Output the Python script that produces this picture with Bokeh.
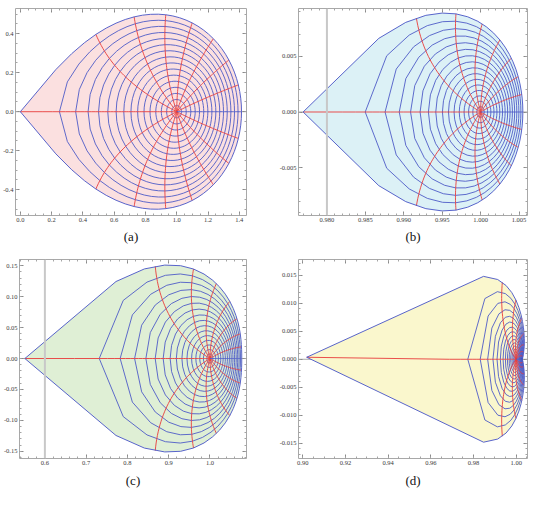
import numpy as np
from bokeh.plotting import figure
from bokeh.layouts import row, column
from bokeh.models import FixedTicker, LinearAxis, PrintfTickFormatter, Span, Title, Range1d
from bokeh.embed import file_html
from bokeh.resources import INLINE

# ---------------- mesh levels (15 circle images, 15 ray images) ----------------
RADII = [0.0625, 0.125, 0.1875, 0.25, 0.3125, 0.375, 0.4375, 0.5,
         0.5625, 0.625, 0.6875, 0.75, 0.8125, 0.875, 0.9375]
RAY_ANGLES_DEG = [22.5, 45, 67.5, 90, 112.5, 135, 157.5, 180,
                  202.5, 225, 247.5, 270, 292.5, 315, 337.5]

# each panel: image of the unit disk under  w = 1 + s((1+z)^alpha - 1) + a z
# (alpha, s, a, vertical stretch) estimated from the plotted extents
# ---------------- panel (a) ----------------
A_MAP = (0.5, 1.0, 0.0, 1.0)
A_X_TICKS = [0.0, 0.2, 0.4, 0.6, 0.8, 1.0, 1.2, 1.4]
A_Y_TICKS = [-0.4, -0.2, 0.0, 0.2, 0.4]
A_X_RANGE = (-0.031, 1.446)
A_Y_RANGE = (-0.532, 0.529)

# ---------------- panel (b) ----------------
B_MAP = (0.42, 0.02659, -0.00349, 1.0)
B_X_TICKS = [0.980, 0.985, 0.990, 0.995, 1.000, 1.005]
B_Y_TICKS = [-0.005, 0.0, 0.005]
B_X_RANGE = (0.9763, 1.0061)
B_Y_RANGE = (-0.0093, 0.0093)
B_VAXIS = 0.980

# ---------------- panel (c) ----------------
C_MAP = (0.38, 0.5317, -0.0832, 0.97)
C_X_TICKS = [0.6, 0.7, 0.8, 0.9, 1.0]
C_Y_TICKS = [-0.15, -0.10, -0.05, 0.0, 0.05, 0.10, 0.15]
C_X_RANGE = (0.5385, 1.0885)
C_Y_RANGE = (-0.1616, 0.160)
C_VAXIS = 0.6

# ---------------- panel (d) ----------------
D_MAP = (0.11, 0.10535, -0.00535, 1.12)
D_X_TICKS = [0.90, 0.92, 0.94, 0.96, 0.98, 1.00]
D_Y_TICKS = [-0.015, -0.010, -0.005, 0.0, 0.005, 0.010, 0.015]
D_X_RANGE = (0.898, 1.0053)
D_Y_RANGE = (-0.0177, 0.0178)

BLUE = "#4f5cc8"
RED = "#e8403f"
FILLS = {"a": "#fbe0e0", "b": "#dcf1f6", "c": "#dfefd5", "d": "#faf7cd"}


def make_map(params):
    alpha, s, a, ky = params

    def f(z):
        w = 1 + s * ((1 + z) ** alpha - 1) + a * z
        return w.real, ky * w.imag
    return f


def build_mesh(fmap, nt, nr):
    t = np.linspace(0, 2 * np.pi, nt + 1)
    bx, by = [], []
    for r in RADII:
        x, y = fmap(r * np.exp(1j * t) + 0j)
        bx.append(list(x)); by.append(list(y))
    rr = np.linspace(0, 1, nr + 1)
    rx, ry = [], []
    for ang in RAY_ANGLES_DEG:
        x, y = fmap(rr * np.exp(1j * np.deg2rad(ang)) + 0j)
        rx.append(list(x)); ry.append(list(y))
    sx, sy = fmap(rr + 0j)
    ox, oy = fmap(np.exp(1j * t) + 0j)
    return bx, by, rx, ry, list(sx), list(sy), list(ox), list(oy)


def make_fig(xr, yr, fw, fh, bl, br, bt, bb):
    p = figure(width=fw + bl + br, height=fh + bt + bb,
               x_range=Range1d(*xr), y_range=Range1d(*yr),
               output_backend="svg", toolbar_location=None,
               x_axis_location=None, y_axis_location=None,
               min_border_left=bl, min_border_right=br,
               min_border_top=bt, min_border_bottom=bb)
    p.grid.visible = False
    p.outline_line_color = None
    p.background_fill_color = "white"
    p.border_fill_color = "white"
    return p


def add_axes(p, xt, yt, xminor, yminor, xfmt, yfmt):
    specs = [("below", xt, xminor, xfmt, True), ("above", xt, xminor, xfmt, False),
             ("left", yt, yminor, yfmt, True), ("right", yt, yminor, yfmt, False)]
    for loc, ticks, minor, fmt, show in specs:
        ax = LinearAxis(ticker=FixedTicker(ticks=ticks, minor_ticks=minor),
                        formatter=PrintfTickFormatter(format=fmt))
        ax.axis_line_color = "#a8a8a8"
        ax.major_tick_line_color = "#8a8a8a"
        ax.minor_tick_line_color = "#a5a5a5"
        ax.major_tick_in = 4
        ax.major_tick_out = 0
        ax.minor_tick_in = 2
        ax.minor_tick_out = 0
        ax.major_label_text_font = "Liberation Serif"
        ax.major_label_text_color = "#3a3a3a"
        if show:
            ax.major_label_text_font_size = "6.5px"
            ax.major_label_standoff = 2
        else:
            ax.major_label_text_font_size = "0px"
            ax.major_label_standoff = 0
        p.add_layout(ax, loc)


def add_caption(p, text, standoff):
    p.add_layout(Title(text=text, align="center", text_font="Liberation Serif",
                       text_font_size="13px", text_font_style="normal",
                       text_color="#111111", standoff=standoff), "below")


def draw_panel(p, fill, mesh):
    bx, by, rx, ry, sx, sy, ox, oy = mesh
    p.add_layout(Span(location=0, dimension="width", line_color="#aaaaaa",
                      line_width=1, level="underlay"))
    p.patch(ox, oy, fill_color=fill, line_color=None)
    p.multi_line(bx, by, line_color=BLUE, line_width=1, line_alpha=0.9)
    p.multi_line(rx, ry, line_color=RED, line_width=1, line_alpha=0.92)
    p.line(ox, oy, line_color=BLUE, line_width=1, line_alpha=0.95)
    p.line(sx, sy, line_color=BLUE, line_width=1, line_alpha=0.95)


def ticks_range(lo, hi, step):
    n0 = int(np.floor(lo / step)) - 1
    n1 = int(np.ceil(hi / step)) + 1
    return [round(k * step, 6) for k in range(n0, n1 + 1)]


NT, NR = 40, 48

# ---------------- panel (a) ----------------
pa = make_fig(A_X_RANGE, A_Y_RANGE, 233, 207, 13, 27, 8, 36)
draw_panel(pa, FILLS["a"], build_mesh(make_map(A_MAP), 64, NR))
add_axes(pa, A_X_TICKS, A_Y_TICKS, ticks_range(*A_X_RANGE, 0.05), ticks_range(*A_Y_RANGE, 0.05), "%.1f", "%.1f")
add_caption(pa, "(a)", 4)

# ---------------- panel (b) ----------------
pb = make_fig(B_X_RANGE, B_Y_RANGE, 229, 207, 25, 4, 8, 36)
draw_panel(pb, FILLS["b"], build_mesh(make_map(B_MAP), NT, NR))
pb.add_layout(Span(location=B_VAXIS, dimension="height", line_color="#c8c8c8", line_width=2))
add_axes(pb, B_X_TICKS, B_Y_TICKS, ticks_range(*B_X_RANGE, 0.001), ticks_range(*B_Y_RANGE, 0.001), "%.3f", "%.3f")
add_caption(pb, "(b)", 4)

# ---------------- panel (c) ----------------
pc = make_fig(C_X_RANGE, C_Y_RANGE, 231, 205, 15, 27, 8, 33)
draw_panel(pc, FILLS["c"], build_mesh(make_map(C_MAP), NT, NR))
pc.add_layout(Span(location=C_VAXIS, dimension="height", line_color="#c8c8c8", line_width=2))
add_axes(pc, C_X_TICKS, C_Y_TICKS, ticks_range(*C_X_RANGE, 0.02), ticks_range(*C_Y_RANGE, 0.01), "%.1f", "%.2f")
add_caption(pc, "(c)", 6)

# ---------------- panel (d) ----------------
pd_ = make_fig(D_X_RANGE, D_Y_RANGE, 229, 199, 25, 4, 8, 39)
draw_panel(pd_, FILLS["d"], build_mesh(make_map(D_MAP), NT, NR))
add_axes(pd_, D_X_TICKS, D_Y_TICKS, ticks_range(*D_X_RANGE, 0.005), ticks_range(*D_Y_RANGE, 0.001), "%.2f", "%.3f")
add_caption(pd_, "(d)", 6)

layout = column(row(pa, pb), row(pc, pd_))
open("out.html", "w").write(file_html(layout, INLINE))
